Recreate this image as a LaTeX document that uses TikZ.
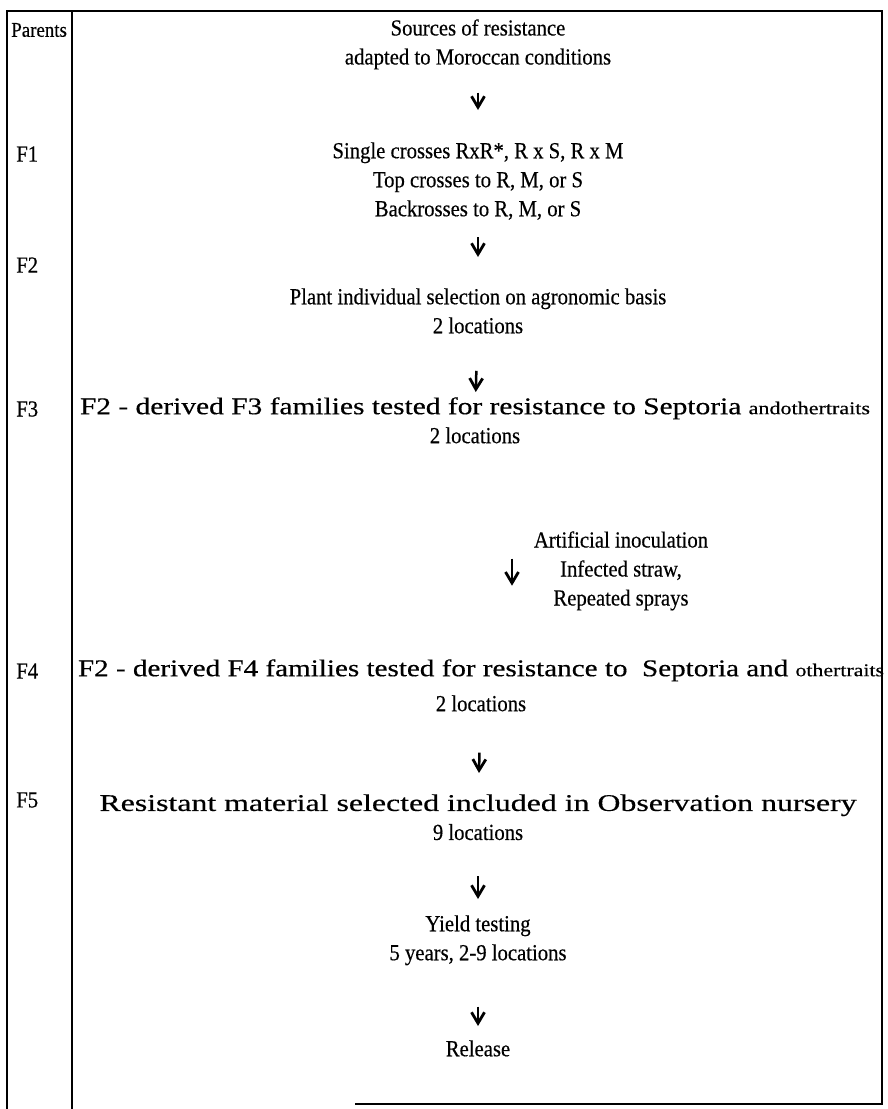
\documentclass[tikz,border=0pt]{standalone}
\usepackage{graphicx}
\usepackage{fontspec}
\setmainfont{Liberation Serif}[FakeStretch=0.9, FakeBold=0.4]
\newfontfamily\widefont{Liberation Serif}[FakeBold=0.4]
\usetikzlibrary{arrows.meta}

\newcommand{\wideline}[2]{\resizebox{#1}{\height}{\widefont\fontsize{24}{29}\selectfont #2}}

\begin{document}
\begin{tikzpicture}[x=1pt, y=-1pt, line width=2.6pt,
        txt/.style={font=\fontsize{23}{29}\selectfont, align=center, inner sep=0pt, anchor=north},
        gen/.style={font=\fontsize{23}{29}\selectfont, anchor=west, inner sep=0pt},
        flow/.style={line width=2.5pt, -{Straight Barb[length=11pt,width=13pt,line width=2.8pt]}}]
                \useasboundingbox (0, 0) rectangle (887, 1109);
                \draw (7, 1109) -- (7, 11) -- (882, 11) -- (882, 1104) -- (355, 1104);
                \draw (72, 11) -- (72, 1109);
                % generations
                \node[gen, font=\fontsize{21}{29}\selectfont] (gParents) at (10, 30) {Parents};
                \foreach \g/\y in {F1/154, F2/265, F3/409, F4/671, F5/800} {
                        \node[gen] (g\g) at (15, \y) {\g};
                }
                % steps of the scheme
                \node[txt] (src) at (478, 18) {Sources of resistance\\adapted to Moroccan conditions};
                \node[txt] (crs) at (478, 141) {Single crosses RxR*, R x S, R x M\\Top crosses to R, M, or S\\Backrosses to R, M, or S};
                \node[txt] (sel) at (478, 287) {Plant individual selection on agronomic basis\\2 locations};
                \node[txt] (famA) at (475, 396) {\wideline{790pt}{F2 - derived F3 families tested for resistance to Septoria {\fontsize{18}{29}\selectfont andothertraits}}\\2 locations};
                \node[txt] (ino) at (621, 530) {Artificial inoculation\\Infected straw,\\Repeated sprays};
                \node[txt] (famB) at (481, 658) {\wideline{806pt}{F2 - derived F4 families tested for resistance to \ Septoria and {\fontsize{18}{29}\selectfont othertraits}}\\[6pt]2 locations};
                \node[txt] (obs) at (478, 793) {\wideline{757pt}{Resistant material selected included in Observation nursery}\\9 locations};
                \node[txt] (yld) at (478, 914) {Yield testing\\5 years, 2-9 locations};
                \node[txt] (rel) at (478, 1039) {Release};
                % arrows
                \draw[flow, shorten <=22pt, shorten >=31pt] (src) -- (crs);
                \draw[flow, shorten <=16pt, shorten >=30pt] (crs) -- (sel);
                \draw[flow, shorten <=36pt, shorten >=4pt] (sel) -- (famA);
                \draw[flow] ([xshift=37pt]famA.south) ++(0, 114) coordinate (ia) -- ++(0, 27) coordinate (ib);
                \draw[flow, shorten <=40pt, shorten >=20pt] (famB) -- (obs);
                \draw[flow, shorten <=35pt, shorten >=15pt] (obs) -- (yld);
                \draw[flow, shorten <=40pt, shorten >=13pt] (yld) -- (rel);
        \end{tikzpicture}
\end{document}
